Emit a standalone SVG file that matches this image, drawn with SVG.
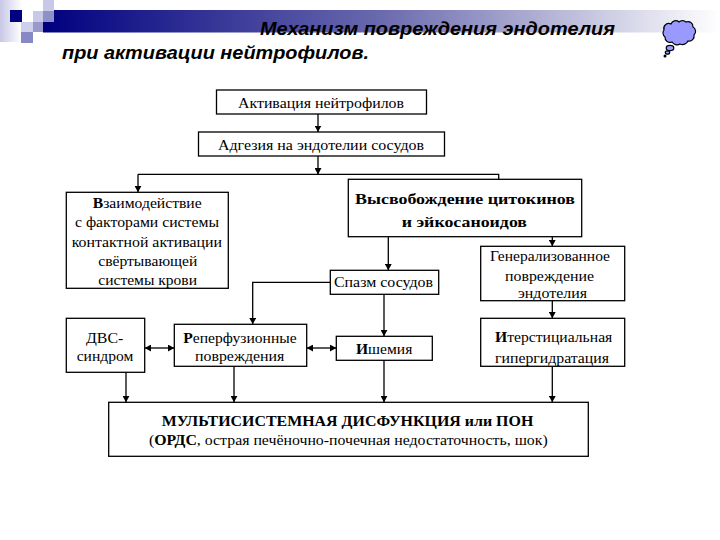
<svg xmlns="http://www.w3.org/2000/svg" width="720" height="540" viewBox="0 0 720 540">
<style>
.box{fill:#fff;stroke:#000;stroke-width:1.3}
.t{font-family:"Liberation Serif","Times New Roman",serif;font-size:15px;fill:#000;text-anchor:start}
.b{font-weight:bold}
.h{font-family:"Liberation Sans",Arial,sans-serif;font-size:17.5px;font-weight:bold;font-style:italic;fill:#000}
.c{fill:none;stroke:#000;stroke-width:1.3}
.cloud{fill:#9999ff;stroke:#000;stroke-width:1.2}
</style>
<defs>
<linearGradient id="band" x1="0" x2="1" y1="0" y2="0">
<stop offset="0" stop-color="#000080"/>
<stop offset="0.5" stop-color="#6a6aae"/>
<stop offset="1" stop-color="#ffffff"/>
</linearGradient>
<linearGradient id="side" x1="0" x2="1" y1="0" y2="0">
<stop offset="0" stop-color="#c8c8e8"/>
<stop offset="1" stop-color="#ffffff"/>
</linearGradient>
<marker id="ah" markerUnits="userSpaceOnUse" markerWidth="7" markerHeight="7" refX="6.5" refY="3.500" orient="auto-start-reverse">
<path d="M0 0L6.5 3.500L0 7z" fill="#000"/>
</marker>
</defs>
<rect width="720" height="540" fill="#fff"/>
<g id="decor">
<rect x="43" y="10" width="677" height="22.500" fill="url(#band)"/>
<rect x="0" y="0" width="22" height="42" fill="url(#side)"/>
<rect x="10" y="10" width="12" height="12" fill="#000080"/>
<rect x="43" y="0" width="11" height="11" fill="#c8c8e8"/>
<rect x="33" y="11" width="10" height="11" fill="#c8c8e8"/>
<rect x="43" y="11" width="11" height="11" fill="#9090c8"/>
<rect x="21" y="22" width="12" height="10" fill="#d0d0ec"/>
<rect x="33" y="22" width="10" height="10" fill="#9999cc"/>
<rect x="21" y="32" width="12" height="11" fill="#8888c4"/>
</g>
<g id="cloud">
<path class="cloud" d="M664 30a5 5 0 0 1 7-6a5 5 0 0 1 8-2a5 5 0 0 1 7 0a5 5 0 0 1 7 5a5 5 0 0 1 1 8a5 5 0 0 1-6 6a6 6 0 0 1-8 3a6 6 0 0 1-8-2a5 5 0 0 1-7-5a5 5 0 0 1-1-7z"/>
<ellipse class="cloud" cx="670" cy="48" rx="3.800" ry="2.600"/>
<ellipse class="cloud" cx="667.500" cy="52.500" rx="2.200" ry="1.700"/>
<circle cx="665" cy="56" r="1.500" fill="#000"/>
</g>
<text class="h" x="260" y="35" textLength="355" lengthAdjust="spacingAndGlyphs">Механизм повреждения эндотелия</text>
<text class="h" x="62" y="58.500" textLength="307" lengthAdjust="spacingAndGlyphs">при активации нейтрофилов.</text>
<g id="connectors">
<path class="c" d="M318 114V132" marker-end="url(#ah)"/>
<path class="c" d="M318 156V174.500" marker-end="url(#ah)"/>
<path class="c" d="M138 174.300H498.700V179.300"/>
<path class="c" d="M138 174.300V192.300" marker-end="url(#ah)"/>
<path class="c" d="M388.300 236.700V270.300" marker-end="url(#ah)"/>
<path class="c" d="M552.300 236.700V246.300" marker-end="url(#ah)"/>
<path class="c" d="M330.300 282.300H252.700V324.300" marker-end="url(#ah)"/>
<path class="c" d="M384 294.300V336.300" marker-end="url(#ah)"/>
<path class="c" d="M552.300 300.700V318.300" marker-end="url(#ah)"/>
<path class="c" d="M144.700 348H174.300" marker-start="url(#ah)" marker-end="url(#ah)"/>
<path class="c" d="M306.700 348H336.300" marker-start="url(#ah)" marker-end="url(#ah)"/>
<path class="c" d="M126 372.300V402.300" marker-end="url(#ah)"/>
<path class="c" d="M234 366.300V402.300" marker-end="url(#ah)"/>
<path class="c" d="M384 360.300V402.300" marker-end="url(#ah)"/>
<path class="c" d="M552.300 366.300V402.300" marker-end="url(#ah)"/>
</g>
<g id="n1"><rect class="box" x="216.500" y="90" width="210" height="24"/>
<text class="t" x="238" y="107.500" textLength="166" lengthAdjust="spacingAndGlyphs">Активация нейтрофилов</text></g>
<g id="n2"><rect class="box" x="198.500" y="132" width="246" height="24"/>
<text class="t" x="218" y="150" textLength="206" lengthAdjust="spacingAndGlyphs">Адгезия на эндотелии сосудов</text></g>
<g id="n3"><rect class="box" x="66.300" y="192.300" width="162" height="96"/>
<text class="t" x="92.700" y="208.300" textLength="109" lengthAdjust="spacingAndGlyphs"><tspan class="b">В</tspan>заимодействие</text>
<text class="t" x="75" y="227.300" textLength="144" lengthAdjust="spacingAndGlyphs">с факторами системы</text>
<text class="t" x="71.700" y="246.500" textLength="150.300" lengthAdjust="spacingAndGlyphs">контактной активации</text>
<text class="t" x="98.300" y="265.500" textLength="99" lengthAdjust="spacingAndGlyphs">свёртывающей</text>
<text class="t" x="98.300" y="284.500" textLength="98.700" lengthAdjust="spacingAndGlyphs">системы крови</text></g>
<g id="n4"><rect class="box" x="348.300" y="179.300" width="233.400" height="57.400"/>
<text class="t b" x="355" y="204" textLength="220" lengthAdjust="spacingAndGlyphs">Высвобождение цитокинов</text>
<text class="t b" x="401.700" y="226.700" textLength="125.300" lengthAdjust="spacingAndGlyphs">и эйкосаноидов</text></g>
<g id="n5"><rect class="box" x="330.300" y="270.300" width="108.400" height="24"/>
<text class="t" x="334" y="287" textLength="99" lengthAdjust="spacingAndGlyphs">Спазм сосудов</text></g>
<g id="n6"><rect class="box" x="480.700" y="246.300" width="144" height="54.400"/>
<text class="t" x="490" y="260.700" textLength="120" lengthAdjust="spacingAndGlyphs">Генерализованное</text>
<text class="t" x="505" y="280.700" textLength="89" lengthAdjust="spacingAndGlyphs">повреждение</text>
<text class="t" x="518" y="298.300" textLength="69" lengthAdjust="spacingAndGlyphs">эндотелия</text></g>
<g id="n7"><rect class="box" x="66.300" y="318.300" width="78.400" height="54"/>
<text class="t" x="86" y="342.700" textLength="37.300" lengthAdjust="spacingAndGlyphs">ДВС-</text>
<text class="t" x="76.700" y="361" textLength="56.600" lengthAdjust="spacingAndGlyphs">синдром</text></g>
<g id="n8"><rect class="box" x="174.300" y="324.300" width="132.400" height="42"/>
<text class="t" x="183.300" y="342.700" textLength="113.400" lengthAdjust="spacingAndGlyphs"><tspan class="b">Р</tspan>еперфузионные</text>
<text class="t" x="195" y="361" textLength="89.300" lengthAdjust="spacingAndGlyphs">повреждения</text></g>
<g id="n9"><rect class="box" x="336.300" y="336.300" width="96" height="24"/>
<text class="t" x="356" y="354" textLength="56.300" lengthAdjust="spacingAndGlyphs"><tspan class="b">И</tspan>шемия</text></g>
<g id="n10"><rect class="box" x="480.700" y="318.300" width="144" height="48"/>
<text class="t" x="495" y="342.300" textLength="117.300" lengthAdjust="spacingAndGlyphs"><tspan class="b">И</tspan>терстициальная</text>
<text class="t" x="495" y="363.300" textLength="114" lengthAdjust="spacingAndGlyphs">гипергидратация</text></g>
<g id="n11"><rect class="box" x="108.700" y="402.300" width="479.600" height="54"/>
<text class="t b" x="161.700" y="425.700" textLength="371.600" lengthAdjust="spacingAndGlyphs">МУЛЬТИСИСТЕМНАЯ ДИСФУНКЦИЯ или ПОН</text>
<text class="t" x="149" y="445" textLength="398.700" lengthAdjust="spacingAndGlyphs">(<tspan class="b">ОРДС</tspan>, острая печёночно-почечная недостаточность, шок)</text></g>
</svg>
